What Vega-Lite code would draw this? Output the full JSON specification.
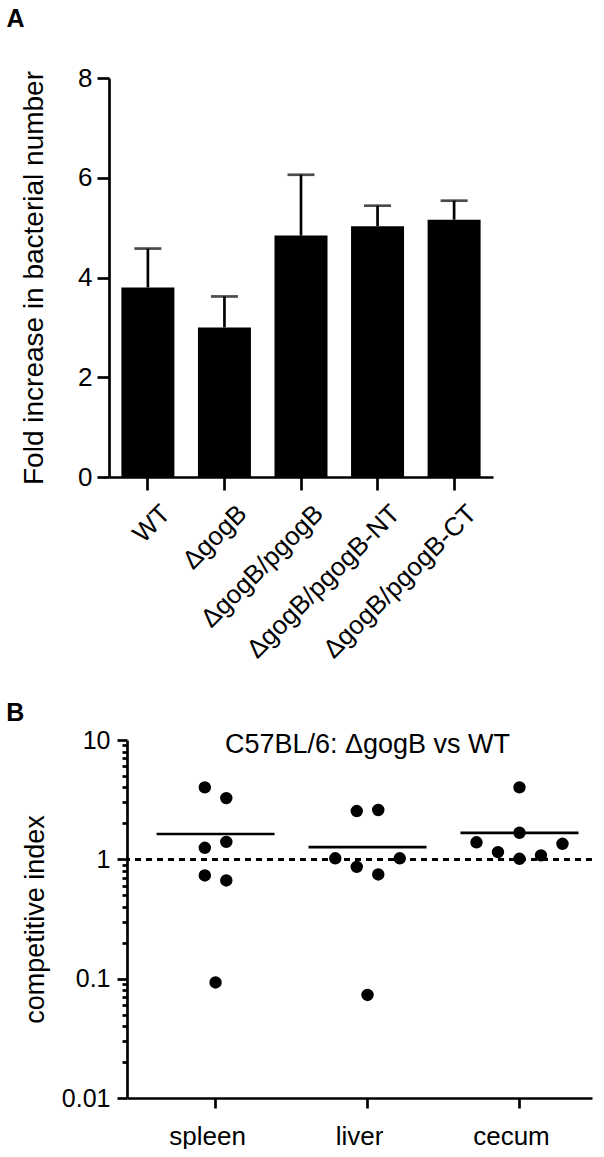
{
  "$schema": "https://vega.github.io/schema/vega-lite/v6.json",
  "padding": {"left": 6, "top": 7, "right": 0, "bottom": 0},
  "background": "white",
  "spacing": 38,
  "columns": 1,
  "align": "none",
  "config": {
    "font": "Liberation Sans",
    "view": {"stroke": null},
    "axis": {
      "grid": false,
      "domainColor": "black",
      "tickColor": "black",
      "labelColor": "black",
      "titleColor": "black",
      "domainWidth": 2.7,
      "tickWidth": 2.7,
      "labelFont": "Liberation Sans",
      "titleFont": "Liberation Sans",
      "titleFontWeight": "normal",
      "labelLimit": 0
    },
    "title": {"font": "Liberation Sans", "color": "black"}
  },
  "concat": [
    {
      "title": {"text": "A", "anchor": "start", "frame": "bounds", "fontSize": 25, "fontWeight": "bold", "dx": -14, "offset": 33},
      "width": 366,
      "height": 399,
      "data": {
        "values": [
          {"strain": "WT", "mean": 3.80, "upper": 4.58},
          {"strain": "ΔgogB", "mean": 3.00, "upper": 3.62},
          {"strain": "ΔgogB/pgogB", "mean": 4.84, "upper": 6.06},
          {"strain": "ΔgogB/pgogB-NT", "mean": 5.03, "upper": 5.44},
          {"strain": "ΔgogB/pgogB-CT", "mean": 5.16, "upper": 5.54}
        ]
      },
      "layer": [
        {
          "mark": {"type": "bar", "color": "black", "size": 53},
          "encoding": {
            "x": {
              "field": "strain", "type": "nominal", "sort": null,
              "scale": {"type": "band", "paddingInner": 0.31, "paddingOuter": 0.163, "range": [-18, 366]},
              "axis": {"title": null, "labelAngle": -45, "labelAlign": "right", "labelBaseline": "top", "labelOffset": 9, "labelPadding": 10, "labelFontSize": 26, "tickSize": 13, "labelOverlap": false, "labelBound": false, "labelLimit": 0}
            },
            "y": {
              "field": "mean", "type": "quantitative",
              "scale": {"domain": [0, 8], "nice": false},
              "axis": {"title": "Fold increase in bacterial number", "values": [0, 2, 4, 6, 8], "offset": 18, "tickSize": 12, "labelFontSize": 26, "labelPadding": 5, "titleFontSize": 28, "titlePadding": 29}
            }
          }
        },
        {
          "mark": {"type": "rule", "color": "black", "strokeWidth": 2.7},
          "encoding": {
            "x": {"field": "strain", "type": "nominal", "sort": null},
            "y": {"field": "mean", "type": "quantitative"},
            "y2": {"field": "upper"}
          }
        },
        {
          "mark": {"type": "tick", "color": "black", "thickness": 2.7, "size": 27},
          "encoding": {
            "x": {"field": "strain", "type": "nominal", "sort": null},
            "y": {"field": "upper", "type": "quantitative"}
          }
        }
      ]
    },
    {
      "title": {"text": "B", "anchor": "start", "frame": "bounds", "fontSize": 25, "fontWeight": "bold", "dx": -15, "offset": 2},
      "width": 465,
      "height": 358,
      "data": {
        "values": [
          {"tissue": "spleen", "offset": -0.5, "ci": 4.01},
          {"tissue": "spleen", "offset": 0.5, "ci": 3.26},
          {"tissue": "spleen", "offset": 0.5, "ci": 1.40},
          {"tissue": "spleen", "offset": -0.5, "ci": 1.25},
          {"tissue": "spleen", "offset": -0.5, "ci": 0.733},
          {"tissue": "spleen", "offset": 0.5, "ci": 0.665},
          {"tissue": "spleen", "offset": 0, "ci": 0.093},
          {"tissue": "liver", "offset": -0.5, "ci": 2.54},
          {"tissue": "liver", "offset": 0.5, "ci": 2.59},
          {"tissue": "liver", "offset": -1.5, "ci": 1.02},
          {"tissue": "liver", "offset": -0.5, "ci": 0.865},
          {"tissue": "liver", "offset": 1.5, "ci": 1.02},
          {"tissue": "liver", "offset": 0.5, "ci": 0.747},
          {"tissue": "liver", "offset": 0, "ci": 0.073},
          {"tissue": "cecum", "offset": 0, "ci": 4.01},
          {"tissue": "cecum", "offset": 0, "ci": 1.67},
          {"tissue": "cecum", "offset": -2, "ci": 1.39},
          {"tissue": "cecum", "offset": -1, "ci": 1.15},
          {"tissue": "cecum", "offset": 0, "ci": 1.01},
          {"tissue": "cecum", "offset": 1, "ci": 1.08},
          {"tissue": "cecum", "offset": 2, "ci": 1.35}
        ]
      },
      "layer": [
        {
          "mark": {"type": "rule", "color": "black", "strokeWidth": 2.7, "strokeDash": [6, 5]},
          "encoding": {"y": {"datum": 1, "type": "quantitative"}}
        },
        {
          "mark": {"type": "circle", "color": "black", "opacity": 1, "size": 154},
          "encoding": {
            "x": {
              "field": "tissue", "type": "nominal", "sort": null,
              "scale": {"type": "band", "paddingInner": 0, "paddingOuter": 0.03},
              "axis": {"title": null, "labelAngle": 0, "labelFontSize": 26, "tickSize": 10, "labelPadding": 15, "bandPosition": 0.555}
            },
            "xOffset": {"field": "offset", "type": "quantitative", "scale": {"domain": [-2, 2], "range": [41, 127]}},
            "y": {
              "field": "ci", "type": "quantitative",
              "scale": {"type": "log", "domain": [0.01, 10], "nice": false},
              "axis": {
                "title": "competitive index",
                "values": [0.01, 0.02, 0.03, 0.04, 0.05, 0.06, 0.07, 0.08, 0.09, 0.1, 0.2, 0.3, 0.4, 0.5, 0.6, 0.7, 0.8, 0.9, 1, 2, 3, 4, 5, 6, 7, 8, 9, 10],
                "labelExpr": "datum.value == 0.01 ? '0.01' : datum.value == 0.1 ? '0.1' : datum.value == 1 ? '1' : datum.value == 10 ? '10' : ''",
                "labelOverlap": false,
                "labelFontSize": 25,
                "labelPadding": 7,
                "tickSize": {"condition": {"test": "datum.value == 0.01 || datum.value == 0.1 || datum.value == 1 || datum.value == 10", "value": 10}, "value": 5},
                "titleFontSize": 27,
                "titlePadding": 12
              }
            }
          }
        },
        {
          "mark": {"type": "tick", "color": "black", "thickness": 2.7, "size": 118},
          "encoding": {
            "x": {"field": "tissue", "type": "nominal", "sort": null},
            "xOffset": {"datum": 0, "type": "quantitative"},
            "y": {"aggregate": "mean", "field": "ci", "type": "quantitative"}
          }
        },
        {
          "data": {"values": [{"tissue": "liver", "ci": 10, "label": "C57BL/6: ΔgogB vs WT"}]},
          "mark": {"type": "text", "fontSize": 27, "baseline": "alphabetic", "align": "center", "dy": 13, "dx": 0, "color": "black"},
          "encoding": {
            "x": {"field": "tissue", "type": "nominal", "sort": null},
            "xOffset": {"datum": 0, "type": "quantitative"},
            "y": {"field": "ci", "type": "quantitative"},
            "text": {"field": "label"}
          }
        }
      ]
    }
  ]
}
